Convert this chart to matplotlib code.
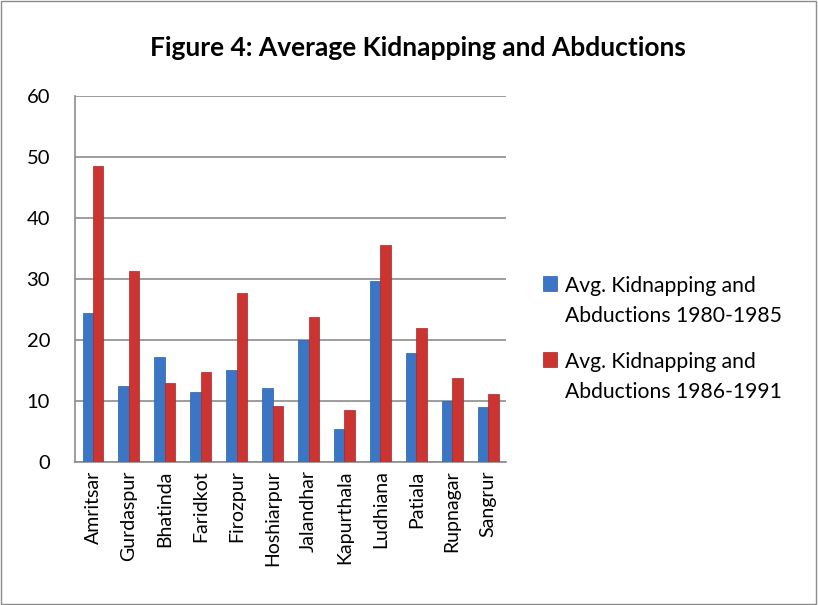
import numpy as np
import matplotlib
matplotlib.use("Agg")
import matplotlib.pyplot as plt
from matplotlib.patches import Rectangle

districts = ["Amritsar", "Gurdaspur", "Bhatinda", "Faridkot", "Firozpur", "Hoshiarpur",
             "Jalandhar", "Kapurthala", "Ludhiana", "Patiala", "Rupnagar", "Sangrur"]
avg_1980_1985 = [24.5, 12.5, 17.2, 11.5, 15.0, 12.2, 20.0, 5.4, 29.7, 17.9, 10.0, 9.0]
avg_1986_1991 = [48.5, 31.3, 13.0, 14.8, 27.7, 9.1, 23.7, 8.5, 35.5, 22.0, 13.7, 11.2]
series_names = ["Avg. Kidnapping and\nAbductions 1980-1985",
                "Avg. Kidnapping and\nAbductions 1986-1991"]

plt.rcParams['font.family'] = ['Lato', 'DejaVu Sans']

fig = plt.figure(figsize=(8.18, 6.05), dpi=100)
fig.patches.append(Rectangle((0.001, 0.001), 0.997, 0.997, transform=fig.transFigure,
                             fill=False, edgecolor="#8c8c8c", linewidth=1))

ax = fig.add_axes([0.0917, 0.2364, 0.527, 0.605])
x = np.arange(len(districts))
w = 0.29
ax.bar(x - w / 2, avg_1980_1985, w, color="#3b76c6", edgecolor="#2f5f9f", linewidth=0.5,
       label=series_names[0], zorder=3)
ax.bar(x + w / 2, avg_1986_1991, w, color="#cc3431", edgecolor="#a52a27", linewidth=0.5,
       label=series_names[1], zorder=3)

ax.set_xlim(-0.5, len(districts) - 0.5)
ax.set_ylim(0, 60)
ax.set_yticks(range(0, 61, 10))
ax.yaxis.grid(True, color="#8c8c8c", linewidth=1.2, zorder=0)
ax.set_axisbelow(True)
ax.set_xticks(x)
ax.set_xticklabels(districts, rotation=90, fontsize=14)
ax.tick_params(axis="y", labelsize=14.5, length=0, pad=18)
ax.tick_params(axis="x", length=0, pad=6)
for s in ["top", "right"]:
    ax.spines[s].set_visible(False)
for s in ["left", "bottom"]:
    ax.spines[s].set_color("#8c8c8c")
    ax.spines[s].set_linewidth(1.2)

fig.text(0.511, 0.921, "Figure 4: Average Kidnapping and Abductions", ha="center", va="center",
         fontsize=19, fontweight="bold")

leg = fig.legend(loc="center left", bbox_to_anchor=(0.64, 0.44), frameon=False, fontsize=15.2,
                 handlelength=0.7, handleheight=0.7, handletextpad=0.35, labelspacing=1.25)
for t in leg.get_texts():
    t.set_linespacing(1.6)
# markers sit next to the first line of each entry, like Excel does
for col in leg._legend_handle_box.get_children():
    for item in col.get_children():
        item.align = "top"

fig.savefig("out.png", dpi=100)
